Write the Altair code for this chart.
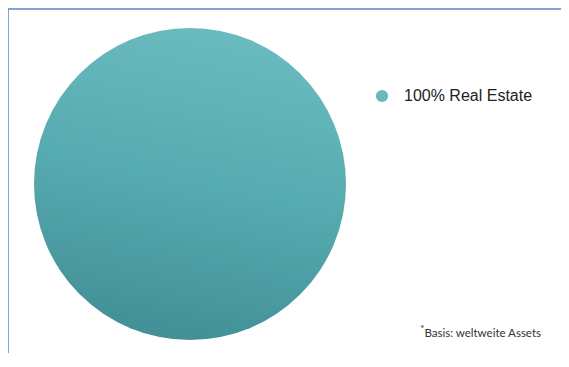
import altair as alt
import pandas as pd

# Data
categories = ["Real Estate"]
shares = [100]
legend_labels = [f"{s}% {c}" for s, c in zip(shares, categories)]
footnote_mark = ["*"]
footnote_text = ["Basis: weltweite Assets"]

df = pd.DataFrame({"label": legend_labels, "share": shares})
fn_df = pd.DataFrame({"mark": footnote_mark, "text": footnote_text})
one = alt.Data(values=[{}])

W, H = 553, 345
CX, CY, R = 182, 176, 156

gradient = alt.LinearGradient(
    gradient="linear",
    stops=[
        alt.GradientStop(color="#6abbbf", offset=0),
        alt.GradientStop(color="#56abb0", offset=0.5),
        alt.GradientStop(color="#428f96", offset=1),
    ],
    x1=0.6, y1=0, x2=0.4, y2=1,
)

pie = alt.Chart(df).mark_arc(outerRadius=R, fill=gradient, strokeWidth=0).encode(
    theta=alt.Theta("share:Q"),
    x=alt.value(CX),
    y=alt.value(CY),
)

legend_layer = alt.Chart(df).mark_arc(outerRadius=R, opacity=0).encode(
    theta=alt.Theta("share:Q"),
    x=alt.value(CX),
    y=alt.value(CY),
    color=alt.Color(
        "label:N",
        scale=alt.Scale(range=["#68b8bd"]),
        legend=alt.Legend(
            title=None,
            orient="none",
            legendX=366,
            legendY=80,
            symbolType="circle",
            symbolSize=150,
            symbolOpacity=1,
            symbolStrokeWidth=0,
            labelFont="Liberation Sans",
            labelFontSize=16,
            labelColor="#222222",
            labelOffset=14,
        ),
    ),
)

star = alt.Chart(fn_df).mark_text(
    align="right", baseline="alphabetic", font="Lato", fontSize=10, color="#333333"
).encode(text="mark:N", x=alt.value(416.5), y=alt.value(324))

note = alt.Chart(fn_df).mark_text(
    align="right", baseline="alphabetic", font="Lato", fontSize=11.5, color="#333333"
).encode(text="text:N", x=alt.value(533), y=alt.value(329))

border_top = alt.Chart(one).mark_rule(color="#5b86c6", strokeWidth=1.5).encode(
    x=alt.value(0), x2=alt.value(W), y=alt.value(1)
)
border_left = alt.Chart(one).mark_rule(color="#5b86c6", strokeWidth=1.5).encode(
    x=alt.value(0), y=alt.value(1), y2=alt.value(H)
)

chart = alt.layer(pie, legend_layer, star, note, border_top, border_left).properties(
    width=W, height=H, padding=0, autosize=alt.AutoSizeParams(type="none"),
    background="white",
).configure_view(stroke=None)

chart.save("out.html", embed_options={"renderer": "svg", "actions": False})
